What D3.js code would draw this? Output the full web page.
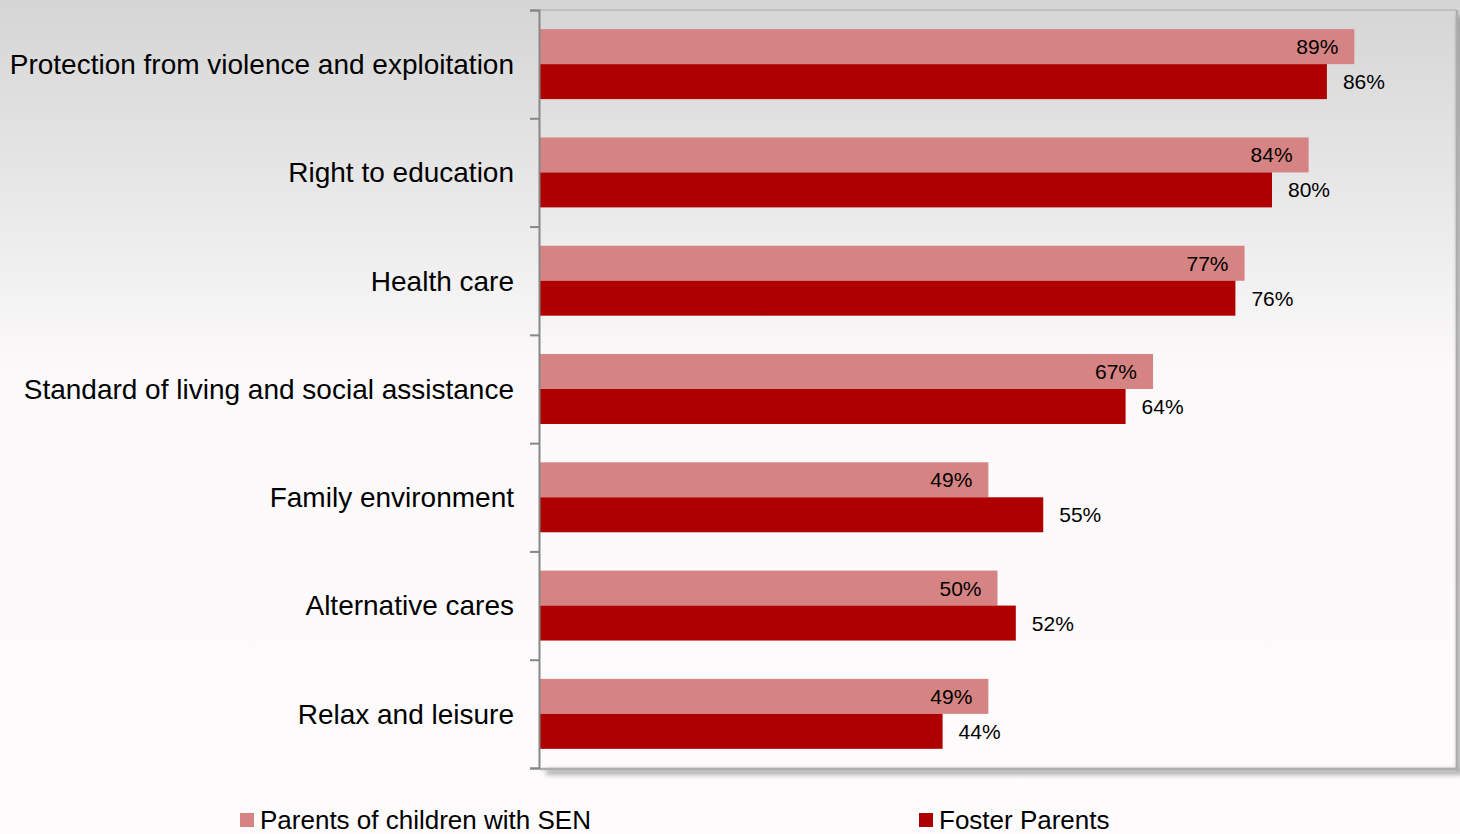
<!DOCTYPE html>
<html>
<head>
<meta charset="utf-8">
<script src="https://cdn.jsdelivr.net/npm/d3@7"></script>
<style>
  html, body { margin: 0; padding: 0; background: #fdfbfc; }
  svg { display: block; font-family: "Liberation Sans", Arial, sans-serif; }
</style>
</head>
<body>
<svg id="chart" width="1460" height="834"></svg>
<script>
// Rights areas, top to bottom
const categories = [
  "Protection from violence and exploitation",
  "Right to education",
  "Health care",
  "Standard of living and social assistance",
  "Family environment",
  "Alternative cares",
  "Relax and leisure"
];
const seriesNames = ["Parents of children with SEN", "Foster Parents"];
const senValues = [0.89, 0.84, 0.77, 0.67, 0.49, 0.50, 0.49];
const fosterValues = [0.86, 0.80, 0.76, 0.64, 0.55, 0.52, 0.44];
const seriesColors = ["#d68383", "#ae0000"];

const svg = d3.select("#chart");
const W = 1460, H = 834;
const plot = { left: 540, top: 10, right: 1456, bottom: 768 };

// Soft grey-to-white page background
const defs = svg.append("defs");
const grad = defs.append("linearGradient").attr("id", "bg").attr("x1", 0).attr("y1", 0).attr("x2", 0).attr("y2", 1);
grad.append("stop").attr("offset", "0%").attr("stop-color", "#d5d5d5");
grad.append("stop").attr("offset", "44%").attr("stop-color", "#fbf9fa");
grad.append("stop").attr("offset", "100%").attr("stop-color", "#fdfbfc");
svg.append("rect").attr("width", W).attr("height", H).attr("fill", "url(#bg)");

const blur = defs.append("filter").attr("id", "shadowBlur")
  .attr("x", "-10%").attr("y", "-10%").attr("width", "120%").attr("height", "120%");
blur.append("feGaussianBlur").attr("stdDeviation", 2.5);

// Scales
const x = d3.scaleLinear().domain([0, 1]).range([plot.left, 1455]);
const y = d3.scaleBand().domain(categories).range([plot.top, plot.bottom])
  .paddingInner(0.354).paddingOuter(0.177);
const ySub = d3.scaleBand().domain(seriesNames).range([0, y.bandwidth()]);

// Plot frame: shadow on right and bottom, light top line
const frame = svg.append("g");
frame.append("path")
  .attr("d", `M${plot.left + 6},${plot.bottom + 4} H${plot.right + 4} V${plot.top + 6}`)
  .attr("fill", "none").attr("stroke", "#000").attr("stroke-opacity", 0.35)
  .attr("stroke-width", 5).attr("filter", "url(#shadowBlur)");
frame.append("line")
  .attr("x1", plot.left).attr("x2", plot.right).attr("y1", plot.top).attr("y2", plot.top)
  .attr("stroke", "#b8b8b8").attr("stroke-width", 1.5);
frame.append("path")
  .attr("d", `M${plot.left},${plot.bottom + 1} H${plot.right + 1} V${plot.top}`)
  .attr("fill", "none").attr("stroke", "#adadad").attr("stroke-width", 2.5);

// Bars
const rows = categories.map((c, i) => ({ cat: c, vals: [senValues[i], fosterValues[i]] }));
const groups = svg.append("g").selectAll("g").data(rows).join("g")
  .attr("transform", d => `translate(0,${y(d.cat)})`);

groups.selectAll("rect").data(d => d.vals.map((v, k) => ({ v, k })))
  .join("rect")
  .attr("x", x(0))
  .attr("y", d => ySub(seriesNames[d.k]))
  .attr("width", d => x(d.v) - x(0))
  .attr("height", ySub.bandwidth())
  .attr("fill", d => seriesColors[d.k]);

// Value labels: inside the end of the SEN bar, just past the end of the foster bar
groups.selectAll("text").data(d => d.vals.map((v, k) => ({ v, k })))
  .join("text")
  .attr("x", d => d.k === 0 ? x(d.v) - 16 : x(d.v) + 16)
  .attr("y", d => ySub(seriesNames[d.k]) + ySub.bandwidth() / 2)
  .attr("dy", "0.36em")
  .attr("text-anchor", d => d.k === 0 ? "end" : "start")
  .attr("font-size", 21)
  .attr("fill", "#000")
  .text(d => d3.format(".0%")(d.v));

// Category axis: ticks at group boundaries, labels centred on groups
const boundaries = d3.range(categories.length + 1);
const yEdge = d3.scaleLinear().domain([0, categories.length]).range([plot.top, plot.bottom]);
const axis = svg.append("g").attr("transform", `translate(${plot.left - 1},0)`)
  .call(d3.axisLeft(yEdge).tickValues(boundaries).tickSize(9).tickFormat(""));
axis.select(".domain").attr("stroke", "#878787").attr("stroke-width", 2);
axis.selectAll(".tick line").attr("stroke", "#878787").attr("stroke-width", 2);

svg.append("g").selectAll("text").data(categories).join("text")
  .attr("x", 514)
  .attr("y", d => y(d) + y.bandwidth() / 2)
  .attr("dy", "0.35em")
  .attr("text-anchor", "end")
  .attr("font-size", 28)
  .attr("fill", "#000")
  .text(d => d);

// Legend along the bottom edge
const legendX = [240, 919];
const legend = svg.append("g").selectAll("g").data(seriesNames).join("g")
  .attr("transform", (d, i) => `translate(${legendX[i]},813)`);
legend.append("rect").attr("width", 14).attr("height", 14)
  .attr("fill", (d, i) => seriesColors[i]);
legend.append("text").attr("x", 20).attr("y", 16)
  .attr("font-size", 26).attr("fill", "#000")
  .text(d => d);
</script>
</body>
</html>
